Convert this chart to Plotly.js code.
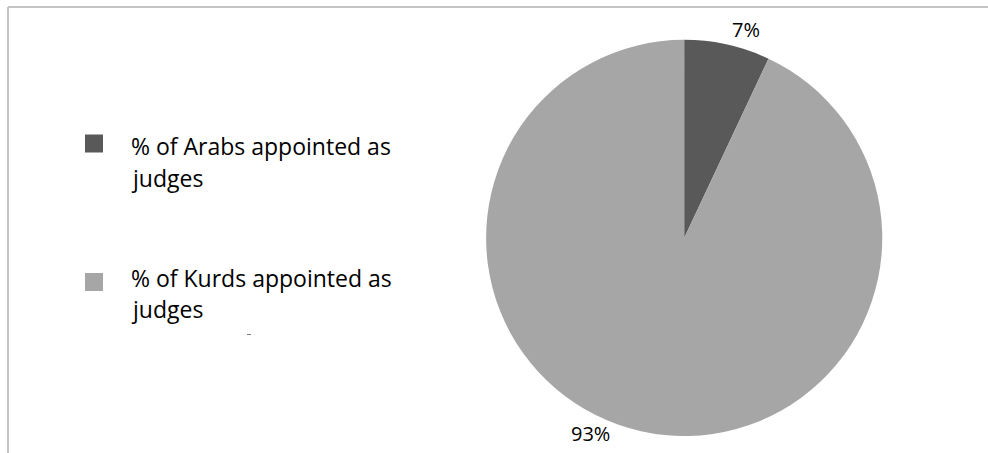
<!DOCTYPE html>
<html>
<head>
<meta charset="utf-8">
<script src="https://cdn.plot.ly/plotly-3.0.1.min.js"></script>
<style>html,body{margin:0;padding:0;background:#fff;}#chart{width:988px;height:453px;}</style>
</head>
<body>
<div id="chart"></div>
<script>
const labels = ["% of Arabs appointed as judges", "% of Kurds appointed as judges"];
const legendLines = [["% of Arabs appointed as", "judges"], ["% of Kurds appointed as", "judges"]];
const values = [7, 93];
const colors = ["#595959", "#a6a6a6"];

const H = 453, W = 988;
const dom = {x: [0.492, 0.893], y: [0.0375, 0.912]};

const trace = {
  type: "pie",
  labels: labels,
  values: values,
  sort: false,
  direction: "clockwise",
  rotation: 0,
  marker: {colors: colors, line: {width: 0}},
  textinfo: "none",
  showlegend: false,
  hoverinfo: "label+percent",
  domain: dom
};

// pie geometry in pixels (derived from the domain)
const cx = (dom.x[0] + dom.x[1]) / 2 * W;
const cy = (1 - (dom.y[0] + dom.y[1]) / 2) * H;
const R = (dom.y[1] - dom.y[0]) * H / 2;
const labelDist = R + 19;           // label distance from centre (px)
const labelAngleNudge = [4, 13];    // degrees, best-fit placement like the original

const shapes = [
  {type: "line", xref: "paper", yref: "paper", x0: 8/W, x1: 1, y0: 1 - 7/H, y1: 1 - 7/H, line: {color: "#c4c4c4", width: 2}},
  {type: "line", xref: "paper", yref: "paper", x0: 8/W, x1: 8/W, y0: 1 - 7/H, y1: 0, line: {color: "#c4c4c4", width: 2}},
  {type: "line", xref: "paper", yref: "paper", x0: 247/W, x1: 251/W, y0: 1 - 334.5/H, y1: 1 - 334.5/H, line: {color: "#777", width: 1}}
];
const annotations = [];

// percentage labels
const total = values.reduce((a, b) => a + b, 0);
let cum = 0;
values.forEach((v, i) => {
  const mid = (cum + v / 2) / total * 360;
  cum += v;
  const a = (mid + labelAngleNudge[i]) * Math.PI / 180;
  const px = cx + labelDist * Math.sin(a);
  const py = cy - labelDist * Math.cos(a);
  annotations.push({xref: "paper", yref: "paper", x: px / W, y: 1 - py / H, xanchor: "center", yanchor: "middle",
    text: Math.round(v / total * 100) + "%", showarrow: false,
    font: {family: "Open Sans, sans-serif", size: 20, color: "#000"}});
});

// legend (pixels from top): square centre, baselines of the two text lines
const legendSquareY = [143.5, 282];
const legendBaselines = [[154, 186], [286, 317]];
const fs = 23;
legendLines.forEach((ln, i) => {
  const yc = legendSquareY[i];
  shapes.push({type: "rect", xref: "paper", yref: "paper", x0: 85/W, x1: 103/W, y0: 1 - (yc + 9)/H, y1: 1 - (yc - 9)/H, fillcolor: colors[i], line: {width: 0}});
  ln.forEach((t, j) => {
    const base = legendBaselines[i][j];
    annotations.push({xref: "paper", yref: "paper", x: 129/W, y: 1 - (base - 0.36 * fs)/H, xanchor: "left", yanchor: "middle",
      text: t, showarrow: false, align: "left",
      font: {family: "Open Sans, sans-serif", size: fs, color: "#000"}});
  });
});

Plotly.newPlot("chart", [trace], {
  width: W, height: H,
  margin: {l: 0, r: 0, t: 0, b: 0},
  paper_bgcolor: "#fff",
  shapes: shapes,
  annotations: annotations
}, {displayModeBar: false, staticPlot: true});
</script>
</body>
</html>
